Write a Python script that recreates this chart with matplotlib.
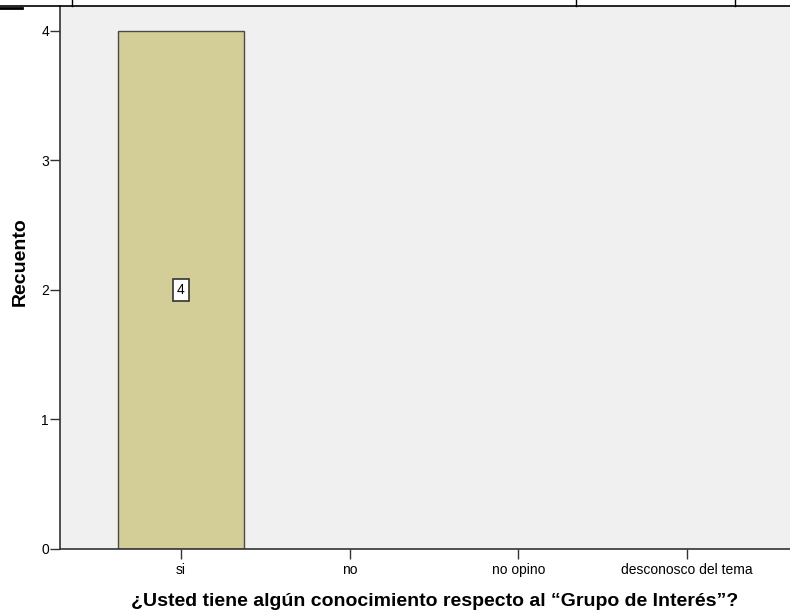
import matplotlib.pyplot as plt
from matplotlib.lines import Line2D

plt.rcParams['font.family'] = ['Liberation Sans', 'DejaVu Sans']

categorias = ['si', 'no', 'no opino', 'desconosco del tema']
recuento = [4, 0, 0, 0]
yticks = [0, 1, 2, 3, 4]

W, H = 790, 612
fig = plt.figure(figsize=(W / 100, H / 100), dpi=100)

# ejes en pixeles: izquierda 60, derecha 790, arriba 6, abajo 549
ax = fig.add_axes([60 / W, (H - 549) / H, (W - 60) / W, (549 - 6) / H])
ax.set_facecolor('#F0F0F0')

x = list(range(len(categorias)))
anchos_borde = [1 if v > 0 else 0 for v in recuento]
ax.bar(x, recuento, width=0.75, color='#D3CE97', edgecolor='#4A4A46',
       linewidth=anchos_borde)

for xi, v in zip(x, recuento):
    if v > 0:
        ax.text(xi, v / 2, str(v), ha='center', va='center', fontsize=10,
                bbox=dict(boxstyle='square,pad=0.3', facecolor='white',
                          edgecolor='#333333', linewidth=1.2))

ax.set_xlim(-0.716, 3.61)
ax.set_ylim(0, 4.19)
ax.set_xticks(x)
ax.set_xticklabels(categorias, fontsize=10)
ax.set_yticks(yticks)
ax.set_yticklabels([str(t) for t in yticks], fontsize=10)
ax.tick_params(axis='both', direction='out', length=7, width=1, color='#333333', pad=1)
ax.tick_params(axis='x', pad=3)

for s in ['top', 'right']:
    ax.spines[s].set_visible(False)
for s in ['left', 'bottom']:
    ax.spines[s].set_color('#333333')
    ax.spines[s].set_linewidth(1.2)

fig.text(20 / W, 1 - 262 / H, 'Recuento', rotation=90, ha='center', va='center',
         fontsize=14, fontweight='bold')
fig.text(435 / W, 1 - 601 / H, '¿Usted tiene algún conocimiento respecto al “Grupo de Interés”?',
         ha='center', va='center', fontsize=14, fontweight='bold')

# lineas de la tabla en el borde superior
fig.add_artist(Line2D([0, 1], [1 - 6 / H, 1 - 6 / H], color='black', linewidth=1.2))
fig.add_artist(Line2D([0, 22 / W], [1 - 8 / H, 1 - 8 / H], color='black', linewidth=2))
for px in [72, 576, 735]:
    fig.add_artist(Line2D([px / W, px / W], [1 - 6 / H, 1], color='black', linewidth=1))

fig.savefig('out.png', dpi=100)
